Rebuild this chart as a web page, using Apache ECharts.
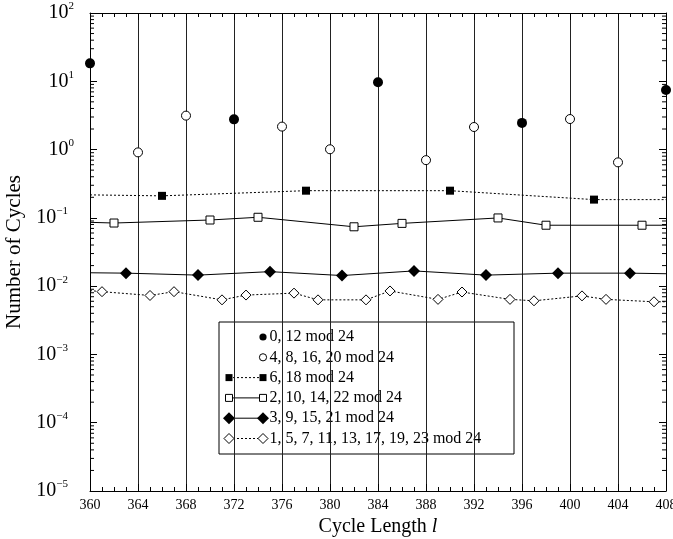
<!DOCTYPE html>
<html>
<head>
<meta charset="utf-8">
<script src="https://cdn.jsdelivr.net/npm/echarts@6/dist/echarts.min.js"></script>
<style>
  html, body { margin: 0; padding: 0; background: #fff; }
  #chart { width: 673px; height: 539px; }
</style>
</head>
<body>
<div id="chart"></div>
<script>
// cycle length / number of cycles
// for the line series the first and last points are only the line ends (no marker)
const len0_12 = [360, 372, 384, 396, 408];
const cyc0_12 = [18.3, 2.77, 9.7, 2.46, 7.46];

const len4_8 = [364, 368, 376, 380, 388, 392, 400, 404];
const cyc4_8 = [0.91, 3.14, 2.17, 1.01, 0.70, 2.14, 2.8, 0.65];

const len6_18 = [360, 366, 378, 390, 402, 408];
const cyc6_18 = [0.217, 0.21, 0.25, 0.25, 0.185, 0.185];

const len2_10 = [360, 362, 370, 374, 382, 386, 394, 398, 406, 408];
const cyc2_10 = [0.086, 0.084, 0.093, 0.102, 0.074, 0.083, 0.0997, 0.078, 0.078, 0.078];

const len3_9 = [360, 363, 369, 375, 381, 387, 393, 399, 405, 408];
const cyc3_9 = [0.0157, 0.0155, 0.0145, 0.0163, 0.0143, 0.0167, 0.0145, 0.0155, 0.0155, 0.0152];

const len1_5 = [360, 361, 365, 367, 371, 373, 377, 379, 383, 385, 389, 391, 395, 397, 401, 403, 407, 408];
const cyc1_5 = [0.0086, 0.0083, 0.0073, 0.0083, 0.0063, 0.0074, 0.0079, 0.0063, 0.0063, 0.0085,
                0.0064, 0.0082, 0.0064, 0.0061, 0.0072, 0.0064, 0.0059, 0.0059];

const seriesNames = [
  '0, 12 mod 24',
  '4, 8, 16, 20 mod 24',
  '6, 18 mod 24',
  '2, 10, 14, 22 mod 24',
  '3, 9, 15, 21 mod 24',
  '1, 5, 7, 11, 13, 17, 19, 23 mod 24'
];

// log axis minor ticks (2..9 in each decade)
const minorMantissas = [2, 3, 4, 5, 6, 7, 8, 9];
const decades = [-5, -4, -3, -2, -1, 0, 1];

const FONT = 'Liberation Serif, Times New Roman, serif';
const dotted = [2, 2];

const specs = [
  { x: len0_12, y: cyc0_12, symbol: 'circle', size: 10, fill: '#000', line: null },
  { x: len4_8, y: cyc4_8, symbol: 'circle', size: 9, fill: '#fff', line: null },
  { x: len6_18, y: cyc6_18, symbol: 'rect', size: 8, fill: '#000', line: dotted },
  { x: len2_10, y: cyc2_10, symbol: 'rect', size: 8, fill: '#fff', line: 'solid' },
  { x: len3_9, y: cyc3_9, symbol: 'diamond', size: 12, fill: '#000', line: 'solid' },
  { x: len1_5, y: cyc1_5, symbol: 'diamond', size: 10, fill: '#fff', line: dotted }
];

function buildSeries(s, i) {
  const last = s.x.length - 1;
  const data = s.x.map((x, k) => {
    const item = { value: [x, s.y[k]] };
    if (s.line && (k === 0 || k === last)) item.symbol = 'none';
    return item;
  });
  const base = {
    name: seriesNames[i],
    data: data,
    symbol: s.symbol,
    symbolSize: s.size,
    itemStyle: { color: s.fill, borderColor: '#000', borderWidth: s.fill === '#fff' ? 1 : 0, opacity: 1 },
    z: 5,
    silent: true
  };
  if (!s.line) return Object.assign(base, { type: 'scatter' });
  return Object.assign(base, {
    type: 'line',
    showAllSymbol: true,
    lineStyle: { color: '#000', width: 1, type: s.line },
    emphasis: { disabled: true }
  });
}

const minorTickValues = [];
decades.forEach(d => minorMantissas.forEach(m => minorTickValues.push(m * Math.pow(10, d))));

const minorTickSeries = {
  type: 'custom',
  silent: true,
  z: 3,
  data: minorTickValues,
  renderItem: function (params, api) {
    const v = api.value(0);
    const l = api.coord([360, v]);
    const r = api.coord([408, v]);
    return {
      type: 'group',
      children: [
        { type: 'line', shape: { x1: l[0], y1: l[1], x2: l[0] + 4, y2: l[1] }, style: { stroke: '#000', lineWidth: 1 } },
        { type: 'line', shape: { x1: r[0] - 4, y1: r[1], x2: r[0], y2: r[1] }, style: { stroke: '#000', lineWidth: 1 } }
      ]
    };
  },
  encode: { y: 0 }
};

function expLabel(v) {
  const e = Math.round(Math.log10(v));
  if (e < 0) return '{b|10}{n|\u2212' + (-e) + '}';
  return '{b|10}{s|' + e + '}';
}

const xAxisBase = {
  type: 'value', min: 360, max: 408, interval: 4,
  axisLine: { show: true, onZero: false, lineStyle: { color: '#000', width: 1 } },
  axisTick: { show: true, inside: true, length: 7, lineStyle: { color: '#000' } },
  minorTick: { show: true, splitNumber: 4, length: 4, lineStyle: { color: '#000' } },
  splitLine: { show: false },
  minorSplitLine: { show: false }
};

const yAxisBase = {
  type: 'log', logBase: 10, min: 1e-5, max: 100,
  axisLine: { show: true, onZero: false, lineStyle: { color: '#000', width: 1 } },
  axisTick: { show: true, inside: true, length: 7, lineStyle: { color: '#000' } },
  minorTick: { show: false },
  splitLine: { show: false }
};

// legend drawn by hand so the markers sit at both ends of the line sample
const legendBox = { x: 219, y: 322, w: 295, h: 132 };
const legendRow0 = 337, legendRowGap = 20.3;
const legendSymL = 229, legendSymR = 263, legendTextX = 269.5;

function legendSymbol(s, cx, cy) {
  const style = { fill: s.fill, stroke: '#000', lineWidth: s.fill === '#fff' ? 1 : 0 };
  if (s.symbol === 'circle') return { type: 'circle', shape: { cx: cx, cy: cy, r: 3.6 }, style: style };
  if (s.symbol === 'rect') return { type: 'rect', shape: { x: cx - 3.5, y: cy - 3.5, width: 7, height: 7 }, style: style };
  const h = s.size / 2;
  return { type: 'polygon', shape: { points: [[cx, cy - h], [cx + h, cy], [cx, cy + h], [cx - h, cy]] }, style: style };
}

const legendEls = [{
  type: 'rect',
  shape: { x: legendBox.x, y: legendBox.y, width: legendBox.w, height: legendBox.h },
  style: { fill: '#fff', stroke: '#000', lineWidth: 1 }
}];
specs.forEach((s, i) => {
  const cy = legendRow0 + i * legendRowGap;
  if (s.line) {
    legendEls.push({
      type: 'line',
      shape: { x1: legendSymL, y1: cy, x2: legendSymR, y2: cy },
      style: { stroke: '#000', lineWidth: 1, lineDash: s.line === 'solid' ? null : s.line }
    });
    legendEls.push(legendSymbol(s, legendSymL, cy));
  }
  legendEls.push(legendSymbol(s, legendSymR, cy));
  legendEls.push({
    type: 'text',
    style: { x: legendTextX, y: cy, text: seriesNames[i], font: '16px ' + FONT, fill: '#000', verticalAlign: 'middle', align: 'left' }
  });
});

const chart = echarts.init(document.getElementById('chart'), null, { renderer: 'canvas' });
chart.setOption({
  animation: false,
  backgroundColor: '#fff',
  textStyle: { fontFamily: FONT, color: '#000' },
  grid: { left: 90, right: 7, top: 13, bottom: 48, containLabel: false, outerBoundsMode: 'none' },
  xAxis: [
    Object.assign({}, xAxisBase, {
      position: 'bottom',
      splitLine: { show: true, lineStyle: { color: '#222', width: 1 } },
      axisLabel: { show: true, showMinLabel: true, showMaxLabel: true, hideOverlap: false, margin: 7, fontSize: 14, fontFamily: FONT, color: '#000' },
      name: '{a|Cycle Length }{i|l}',
      nameLocation: 'middle',
      nameGap: 24,
      nameTextStyle: {
        rich: {
          a: { fontSize: 20, fontFamily: FONT, color: '#000' },
          i: { fontSize: 20, fontFamily: FONT, fontStyle: 'italic', color: '#000' }
        }
      }
    }),
    Object.assign({}, xAxisBase, { position: 'top', axisLabel: { show: false } })
  ],
  yAxis: [
    Object.assign({}, yAxisBase, {
      position: 'left',
      axisLabel: {
        show: true, showMinLabel: true, showMaxLabel: true, hideOverlap: false, margin: 16,
        formatter: expLabel,
        rich: {
          b: { fontSize: 20, fontFamily: FONT, color: '#000' },
          s: { fontSize: 11, fontFamily: FONT, color: '#000', padding: [0, 0, 13, 0] },
          n: { fontSize: 11, fontFamily: FONT, color: '#000', padding: [0, 6, 13, 0] }
        }
      },
      name: 'Number of Cycles',
      nameLocation: 'middle',
      nameGap: 63,
      nameTextStyle: { fontSize: 21, fontFamily: FONT, color: '#000' }
    }),
    Object.assign({}, yAxisBase, { position: 'right', axisLabel: { show: false } })
  ],
  series: specs.map(buildSeries).concat([minorTickSeries]),
  graphic: { elements: [{ type: 'group', z: 100, children: legendEls }] }
});
</script>
</body>
</html>
